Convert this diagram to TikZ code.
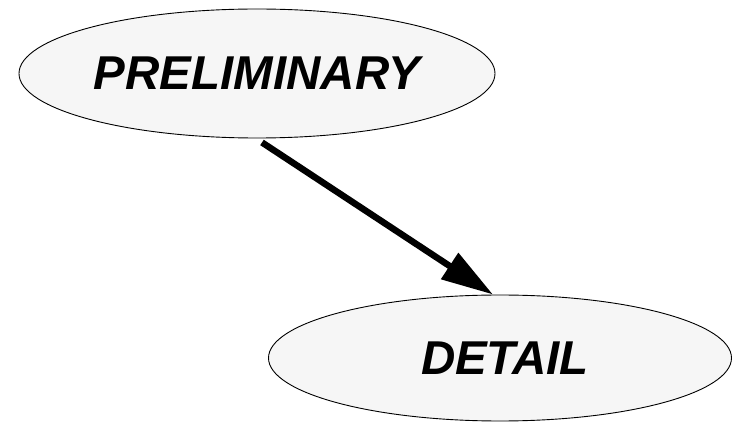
\documentclass[tikz,border=0pt]{standalone}
\usepackage{fontspec}
\setmainfont{Liberation Sans}
\usetikzlibrary{shapes.geometric,arrows.meta}
\definecolor{bubblefill}{HTML}{F6F6F6}
\tikzset{
  phase/.style={ellipse, draw=black, line width=0.9pt, fill=bubblefill,
    inner sep=0pt, font=\fontsize{47.5}{47.5}\selectfont\bfseries\itshape},
  flow/.style={line width=6.5pt, -{Triangle[length=52pt,width=30pt]}}
}
\begin{document}
\begin{tikzpicture}[x=1pt,y=-1pt]
  \useasboundingbox (0,0) rectangle (732,422);
  \node[phase, minimum width=476pt, minimum height=129pt] (pre) at (257,73.5) {PRELIMINARY};
  \node[phase, minimum width=463pt, minimum height=126pt] (det) at (500,358) {\hspace*{10pt}DETAIL};
  \draw[flow] ([xshift=5pt,yshift=-4pt]pre.south) -- ([xshift=-7pt]det.north);
\end{tikzpicture}
\end{document}
